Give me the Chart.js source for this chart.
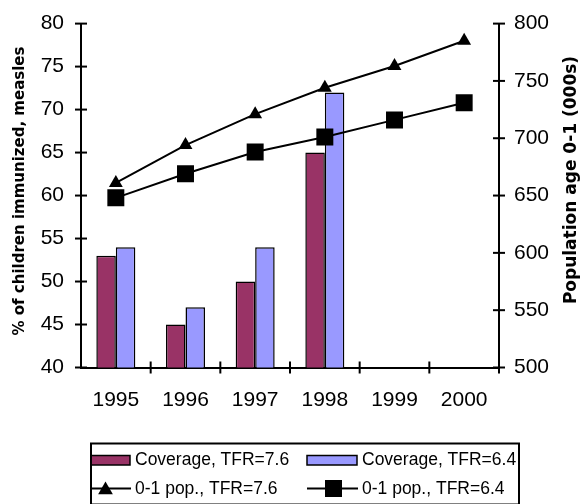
<!DOCTYPE html>
<html><head><meta charset="utf-8">
<script src="https://cdn.jsdelivr.net/npm/chart.js@4.4.0/dist/chart.umd.min.js"></script>
<style>html,body{margin:0;padding:0;background:#fff;} #wrap{width:588px;height:504px;position:relative;}</style>
</head><body><div id="wrap"><canvas id="c" width="588" height="504"></canvas></div>
<script>
const years = ['1995','1996','1997','1998','1999','2000'];
const coverage76 = [53, 45, 50, 65, null, null];
const coverage64 = [54, 47, 54, 72, null, null];
const pop76 = [661, 694, 721, 744, 763, 785];
const pop64 = [648, 669, 688, 701, 716, 731];
const leftRange = [40, 80, 5];
const rightRange = [500, 800, 50];
const seriesLabels = ['Coverage, TFR=7.6', 'Coverage, TFR=6.4', '0-1 pop., TFR=7.6', '0-1 pop., TFR=6.4'];
const leftTitle = '% of children immunized, measles';
const rightTitle = 'Population age 0-1 (000s)';

const MAROON = '#993366', LBLUE = '#9999FF';
const SANS = "'Liberation Sans', Arial, sans-serif";
const TITLEF = "bold 15px 'DejaVu Sans', Verdana, sans-serif";

function tri(ctx, x, y, r) {
  ctx.beginPath();
  ctx.moveTo(x, y - r);
  ctx.lineTo(x + r * 0.866, y + r / 2);
  ctx.lineTo(x - r * 0.866, y + r / 2);
  ctx.closePath(); ctx.fill();
}

const deco = {
  id: 'deco',
  afterDraw(chart) {
    const ctx = chart.ctx, a = chart.chartArea;
    const xs = chart.scales.x, yl = chart.scales.y, yr = chart.scales.y1;
    ctx.save();
    ctx.strokeStyle = '#000'; ctx.lineWidth = 2;
    const ln = (x1, y1, x2, y2) => { ctx.beginPath(); ctx.moveTo(x1, y1); ctx.lineTo(x2, y2); ctx.stroke(); };
    yl.ticks.forEach(t => { const p = yl.getPixelForValue(t.value); ln(a.left - 6, p, a.left + 6, p); });
    yr.ticks.forEach(t => { const p = yr.getPixelForValue(t.value); ln(a.right - 6, p, a.right + 6, p); });
    const n = xs.getLabels().length;
    const half = (xs.getPixelForValue(1) - xs.getPixelForValue(0)) / 2;
    for (let i = 0; i < n; i++) { const p = xs.getPixelForValue(i) + half; ln(p, a.bottom - 6, p, a.bottom + 6); }

    // axis titles (both read bottom-to-top)
    ctx.fillStyle = '#000';
    ctx.textAlign = 'center'; ctx.textBaseline = 'middle';
    ctx.font = TITLEF;
    ctx.save(); ctx.translate(20, 191); ctx.rotate(-Math.PI / 2); ctx.fillText(leftTitle, 0, 0); ctx.restore();
    ctx.font = "bold 17px 'DejaVu Sans', Verdana, sans-serif";
    ctx.save(); ctx.translate(572, 180); ctx.rotate(-Math.PI / 2); ctx.fillText(rightTitle, 0, 0); ctx.restore();

    // legend
    const ds = chart.data.datasets;
    ctx.lineWidth = 2;
    ctx.strokeRect(91, 443.5, 428, 61);
    ctx.save();
    ctx.beginPath(); ctx.rect(92, 444.5, 426, 59); ctx.clip();
    ctx.lineWidth = 1.5;
    ctx.fillStyle = ds[0].backgroundColor; ctx.fillRect(80, 455.5, 50, 9.5); ctx.strokeRect(80, 455.5, 50, 9.5);
    ctx.fillStyle = ds[1].backgroundColor; ctx.fillRect(307, 455.5, 50, 9.5); ctx.strokeRect(307, 455.5, 50, 9.5);
    ctx.lineWidth = 2; ctx.fillStyle = '#000';
    ln(80, 488.5, 131, 488.5); tri(ctx, 105.5, 490, 8.5);
    ln(307, 488.5, 358, 488.5); ctx.fillRect(325, 480, 17, 17);
    ctx.restore();
    ctx.fillStyle = '#000';
    ctx.font = '17.5px ' + SANS; ctx.textAlign = 'left'; ctx.textBaseline = 'middle';
    ctx.fillText(ds[0].label, 135, 460);
    ctx.fillText(ds[1].label, 362, 460);
    ctx.fillText(ds[2].label, 135, 489);
    ctx.fillText(ds[3].label, 362, 489);
    ctx.restore();
  }
};

new Chart(document.getElementById('c'), {
  data: {
    labels: years,
    datasets: [
      { type: 'bar', label: seriesLabels[0], data: coverage76, yAxisID: 'y', backgroundColor: MAROON, borderColor: '#000', borderWidth: 1.5, order: 2, categoryPercentage: 0.56, barPercentage: 1.0 },
      { type: 'bar', label: seriesLabels[1], data: coverage64, yAxisID: 'y', backgroundColor: LBLUE, borderColor: '#000', borderWidth: 1.5, order: 2, categoryPercentage: 0.56, barPercentage: 1.0 },
      { type: 'line', label: seriesLabels[2], data: pop76, yAxisID: 'y1', borderColor: '#000', borderWidth: 2, pointStyle: 'triangle', pointRadius: 8, pointBackgroundColor: '#000', pointBorderColor: '#000', pointBorderWidth: 0, tension: 0, order: 0 },
      { type: 'line', label: seriesLabels[3], data: pop64, yAxisID: 'y1', borderColor: '#000', borderWidth: 2, pointStyle: 'rect', pointRadius: 12, pointBackgroundColor: '#000', pointBorderColor: '#000', pointBorderWidth: 0, tension: 0, order: 0 }
    ]
  },
  options: {
    responsive: false, animation: false, devicePixelRatio: 1,
    layout: { padding: { top: 18, left: 0, right: 0, bottom: 0 } },
    plugins: { legend: { display: false }, tooltip: { enabled: false } },
    scales: {
      x: {
        type: 'category', offset: true,
        grid: { display: true, color: 'rgba(0,0,0,0)', drawOnChartArea: false, tickLength: 6 },
        border: { display: true, color: '#000', width: 2 },
        ticks: { color: '#000', font: { family: SANS, size: 21 }, padding: 14, maxRotation: 0, autoSkip: false },
        afterFit: s => { s.height = 136.5; }
      },
      y: {
        position: 'left', min: leftRange[0], max: leftRange[1],
        grid: { display: true, color: 'rgba(0,0,0,0)', drawOnChartArea: false, tickLength: 6 },
        border: { display: true, color: '#000', width: 2 },
        ticks: { stepSize: leftRange[2], color: '#000', font: { family: SANS, size: 21 }, padding: 11 },
        afterFit: s => { s.width = 81; }
      },
      y1: {
        position: 'right', min: rightRange[0], max: rightRange[1],
        grid: { display: true, color: 'rgba(0,0,0,0)', drawOnChartArea: false, tickLength: 6 },
        border: { display: true, color: '#000', width: 2 },
        ticks: { stepSize: rightRange[2], color: '#000', font: { family: SANS, size: 21 }, padding: 9 },
        afterFit: s => { s.width = 89; }
      }
    }
  },
  plugins: [deco]
});
</script>
</body></html>
